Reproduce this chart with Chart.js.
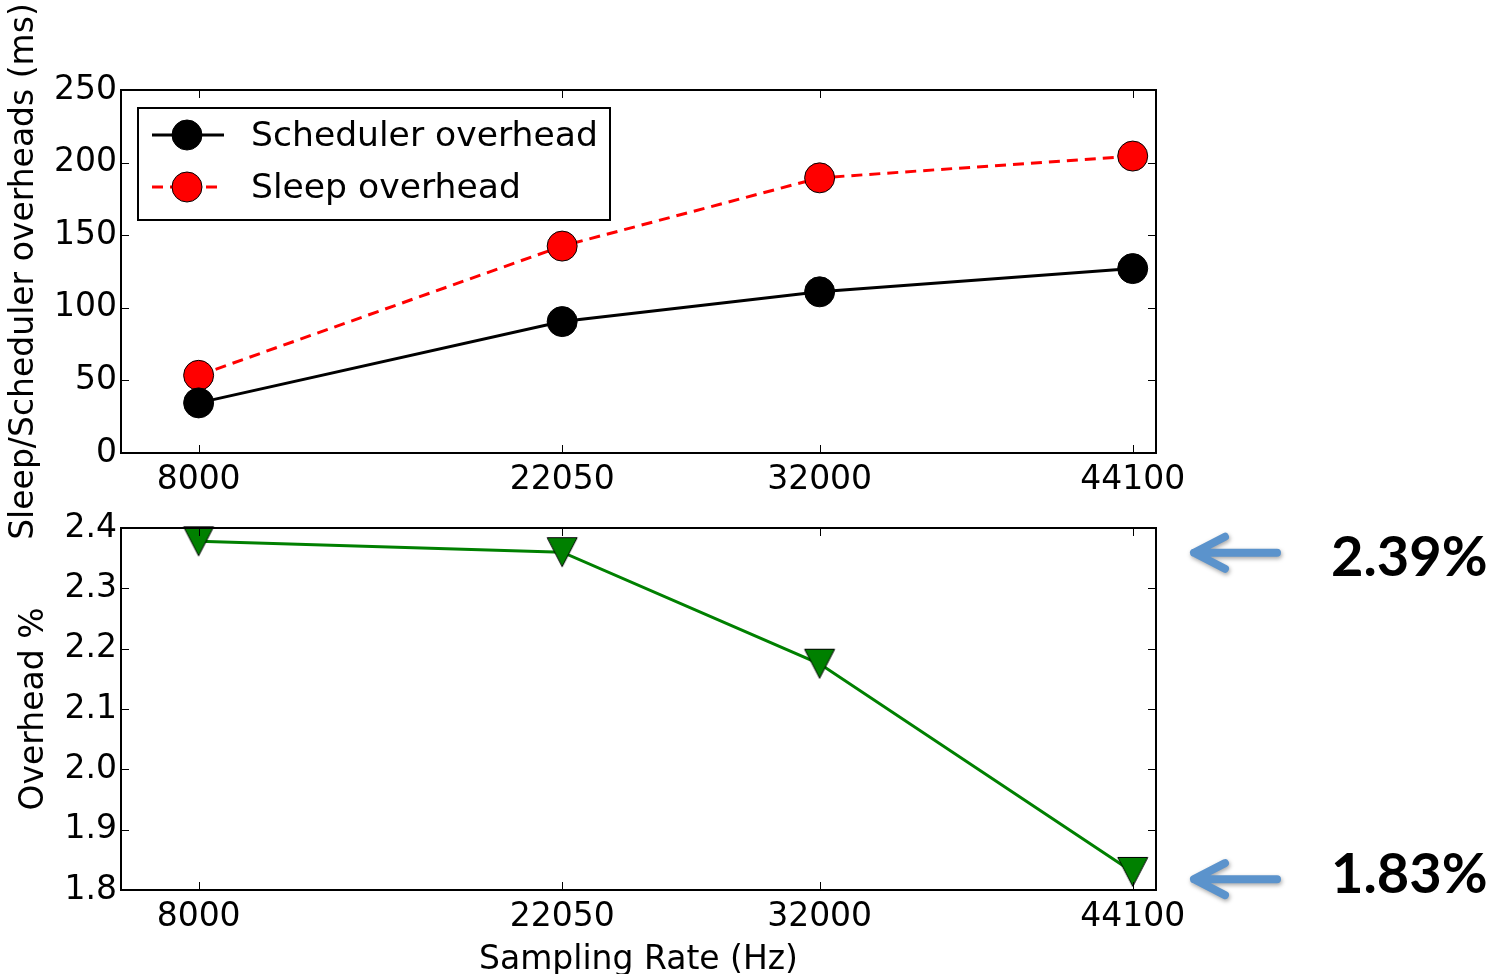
<!DOCTYPE html>
<html>
<head>
<meta charset="utf-8">
<script src="https://cdn.jsdelivr.net/npm/chart.js@4.4.1/dist/chart.umd.min.js"></script>
<style>
  body { margin: 0; background: #fff; }
  #wrap { position: relative; width: 1495px; height: 974px; }
  canvas { position: absolute; left: 0; }
</style>
</head>
<body>
<div id="wrap">
  <canvas id="top-chart" width="1495" height="974" style="top:0"></canvas>
  <canvas id="bottom-chart" width="1495" height="474" style="top:500px"></canvas>
</div>
<script>
// data
var sampleRates = [8000, 22050, 32000, 44100];
var schedulerMs = [34.5, 90.5, 111, 127];
var sleepMs = [53.5, 142.5, 189.5, 204.5];
var overheadPct = [2.378, 2.36, 2.175, 1.83];

var topYTicks = [0, 50, 100, 150, 200, 250];
var bottomYTicks = [1.8, 1.9, 2.0, 2.1, 2.2, 2.3, 2.4];
var calloutLabels = ['2.39%', '1.83%'];

var FONT = 'DejaVu Sans';

function pts(ys) {
    return sampleRates.map(function (x, i) { return { x: x, y: ys[i] }; });
}

// matplotlib style 'v' marker
function triangleMarker() {
    var c = document.createElement('canvas');
    c.width = 34; c.height = 34;
    var g = c.getContext('2d');
    g.beginPath();
    g.moveTo(2, 2.5);
    g.lineTo(32, 2.5);
    g.lineTo(17, 31.5);
    g.closePath();
    g.fillStyle = '#008000';
    g.fill();
    g.lineWidth = 1;
    g.strokeStyle = '#000';
    g.stroke();
    return c;
}

// frame + inward ticks on all four sides
var framePlugin = {
    id: 'frame',
    afterDatasetsDraw: function (chart) {
        var ctx = chart.ctx, a = chart.chartArea;
        var xs = chart.scales.x, ys = chart.scales.y;
        ctx.save();
        ctx.strokeStyle = '#000';
        ctx.lineWidth = 1;
        ctx.beginPath();
        xs.ticks.forEach(function (t) {
            var px = Math.round(xs.getPixelForValue(t.value)) + 0.5;
            ctx.moveTo(px, a.bottom); ctx.lineTo(px, a.bottom - 8);
            ctx.moveTo(px, a.top); ctx.lineTo(px, a.top + 8);
        });
        ys.ticks.forEach(function (t) {
            var py = Math.round(ys.getPixelForValue(t.value)) + 0.5;
            ctx.moveTo(a.left, py); ctx.lineTo(a.left + 8, py);
            ctx.moveTo(a.right, py); ctx.lineTo(a.right - 8, py);
        });
        ctx.stroke();
        ctx.lineWidth = 2;
        ctx.strokeRect(a.left, a.top, a.right - a.left, a.bottom - a.top);
        ctx.restore();
    }
};

var legendPlugin = {
    id: 'boxLegend',
    afterDraw: function (chart) {
        var ctx = chart.ctx;
        ctx.save();
        ctx.fillStyle = '#fff';
        ctx.fillRect(138, 108, 472, 112);
        ctx.strokeStyle = '#000';
        ctx.lineWidth = 2;
        ctx.strokeRect(138, 108, 472, 112);
        var rows = [
            { label: chart.data.datasets[0].label, y: 135, color: '#000', fill: '#000', dash: [] },
            { label: chart.data.datasets[1].label, y: 187, color: '#ff0000', fill: '#ff0000', dash: [11, 7] }
        ];
        rows.forEach(function (r) {
            ctx.strokeStyle = r.color;
            ctx.lineWidth = 3;
            ctx.setLineDash(r.dash);
            ctx.beginPath();
            ctx.moveTo(152, r.y); ctx.lineTo(224, r.y);
            ctx.stroke();
            ctx.setLineDash([]);
            ctx.beginPath();
            ctx.arc(187, r.y, 15, 0, Math.PI * 2);
            ctx.fillStyle = r.fill;
            ctx.fill();
            ctx.lineWidth = 1;
            ctx.strokeStyle = '#000';
            ctx.stroke();
            ctx.fillStyle = '#000';
            ctx.font = '34.6px "' + FONT + '"';
            ctx.textBaseline = 'middle';
            ctx.fillText(r.label, 251, r.y + 2);
        });
        ctx.restore();
    }
};

var calloutPlugin = {
    id: 'callouts',
    afterDraw: function (chart) {
        var ctx = chart.ctx;
        var ys = chart.scales.y;
        var arrowYs = [ys.getPixelForValue(2.359), ys.getPixelForValue(1.818)];
        var textShift = [5, -4];
        ctx.save();
        arrowYs.forEach(function (y, i) {
            ctx.save();
            ctx.shadowColor = 'rgba(0,0,0,0.35)';
            ctx.shadowBlur = 4;
            ctx.shadowOffsetX = 1;
            ctx.shadowOffsetY = 2;
            ctx.strokeStyle = '#5b93cc';
            ctx.lineWidth = 8;
            ctx.lineCap = 'round';
            ctx.lineJoin = 'round';
            ctx.beginPath();
            ctx.moveTo(1277, y); ctx.lineTo(1194, y);
            ctx.moveTo(1225, y - 16); ctx.lineTo(1194, y); ctx.lineTo(1225, y + 16);
            ctx.stroke();
            ctx.restore();
            ctx.fillStyle = '#000';
            ctx.font = 'bold 56px Lato';
            ctx.textBaseline = 'middle';
            ctx.fillText(calloutLabels[i], 1331, y + textShift[i]);
        });
        ctx.restore();
    }
};

function xScale(showTitle, height) {
    return {
        type: 'linear',
        min: 5000,
        max: 45000,
        afterBuildTicks: function (s) { s.ticks = sampleRates.map(function (v) { return { value: v }; }); },
        afterFit: function (s) { s.height = height; },
        grid: { display: false, drawTicks: false },
        border: { display: false },
        ticks: {
            padding: 8,
            color: '#000',
            font: { family: FONT, size: 33 },
            maxRotation: 0,
            autoSkip: false,
            callback: function (v) { return String(v); }
        },
        title: {
            display: showTitle,
            text: 'Sampling Rate (Hz)',
            color: '#000',
            font: { family: FONT, size: 33, lineHeight: 0.82 },
            padding: { top: 0, bottom: 0 }
        }
    };
}

function yScale(min, max, ticks, title, titlePad, decimals) {
    return {
        type: 'linear',
        min: min,
        max: max,
        afterBuildTicks: function (s) { s.ticks = ticks.map(function (v) { return { value: v }; }); },
        afterFit: function (s) { s.width = 121; },
        grid: { display: false, drawTicks: false },
        border: { display: false },
        ticks: {
            padding: 4,
            color: '#000',
            font: { family: FONT, size: 33 },
            callback: function (v) { return v.toFixed(decimals); }
        },
        title: {
            display: true,
            text: title,
            color: '#000',
            font: { family: FONT, size: 33, lineHeight: 1 },
            padding: { top: titlePad, bottom: 0 }
        }
    };
}

new Chart(document.getElementById('top-chart').getContext('2d'), {
    type: 'line',
    data: {
        datasets: [{
            label: 'Scheduler overhead',
            data: pts(schedulerMs),
            borderColor: '#000',
            borderWidth: 3,
            pointRadius: 15,
            pointBackgroundColor: '#000',
            pointBorderColor: '#000',
            pointBorderWidth: 1,
            clip: false
        }, {
            label: 'Sleep overhead',
            data: pts(sleepMs),
            borderColor: '#ff0000',
            borderWidth: 3,
            borderDash: [11, 7],
            pointRadius: 15,
            pointBackgroundColor: '#ff0000',
            pointBorderColor: '#000',
            pointBorderWidth: 1,
            clip: false
        }]
    },
    options: {
        responsive: false,
        animation: false,
        layout: { padding: { left: 0, right: 339, top: 90, bottom: 474 } },
        scales: {
            x: xScale(false, 47),
            y: yScale(0, 250, topYTicks, 'Sleep/Scheduler overheads (ms)', 8, 0)
        },
        plugins: { legend: { display: false }, tooltip: { enabled: false } }
    },
    plugins: [framePlugin, legendPlugin]
});

new Chart(document.getElementById('bottom-chart').getContext('2d'), {
    type: 'line',
    data: {
        datasets: [{
            label: 'Overhead %',
            data: pts(overheadPct),
            borderColor: '#008000',
            borderWidth: 3,
            pointStyle: triangleMarker(),
            pointRadius: 17,
            clip: false
        }]
    },
    options: {
        responsive: false,
        animation: false,
        layout: { padding: { left: 0, right: 339, top: 28, bottom: 0 } },
        scales: {
            x: xScale(true, 84),
            y: yScale(1.8, 2.4, bottomYTicks, 'Overhead %', 18, 1)
        },
        plugins: { legend: { display: false }, tooltip: { enabled: false } }
    },
    plugins: [framePlugin, calloutPlugin]
});
</script>
</body>
</html>
